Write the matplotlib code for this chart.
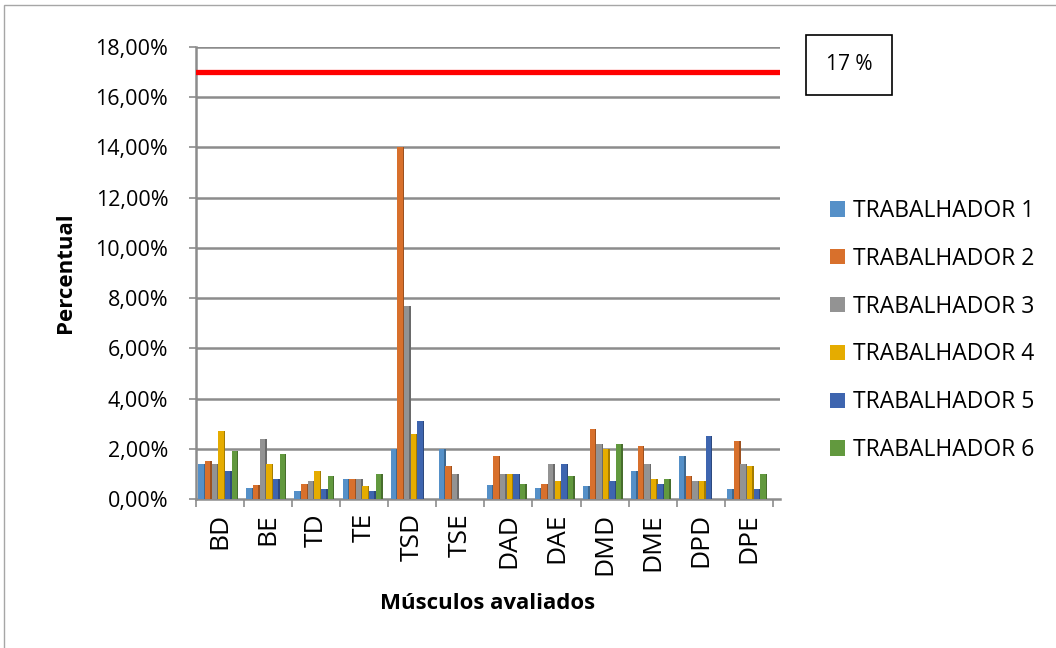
import matplotlib
matplotlib.use("Agg")
import matplotlib.pyplot as plt
from matplotlib.patches import Rectangle
from matplotlib.ticker import FuncFormatter, FixedLocator
from matplotlib.colors import to_rgb
import numpy as np

plt.rcParams['font.family'] = ['Open Sans', 'DejaVu Sans']

# Muscles evaluated
categories = ["BD", "BE", "TD", "TE", "TSD", "TSE", "DAD", "DAE", "DMD", "DME", "DPD", "DPE"]

# Percentual per worker (%)
trabalhador_1 = [1.4, 0.45, 0.3, 0.8, 2.0, 2.0, 0.55, 0.45, 0.5, 1.1, 1.7, 0.4]
trabalhador_2 = [1.5, 0.55, 0.6, 0.8, 14.0, 1.3, 1.7, 0.6, 2.8, 2.1, 0.9, 2.3]
trabalhador_3 = [1.4, 2.4, 0.7, 0.8, 7.7, 1.0, 1.0, 1.4, 2.2, 1.4, 0.7, 1.4]
trabalhador_4 = [2.7, 1.4, 1.1, 0.5, 2.6, 0.0, 1.0, 0.7, 2.0, 0.8, 0.7, 1.3]
trabalhador_5 = [1.1, 0.8, 0.4, 0.3, 3.1, 0.0, 1.0, 1.4, 0.7, 0.6, 2.5, 0.4]
trabalhador_6 = [1.9, 1.8, 0.9, 1.0, 0.0, 0.0, 0.6, 0.9, 2.2, 0.8, 0.0, 1.0]

series_labels = ["TRABALHADOR 1", "TRABALHADOR 2", "TRABALHADOR 3",
                 "TRABALHADOR 4", "TRABALHADOR 5", "TRABALHADOR 6"]
series_values = [trabalhador_1, trabalhador_2, trabalhador_3,
                 trabalhador_4, trabalhador_5, trabalhador_6]
colors = ["#5590C8", "#D8702C", "#939393", "#E5AC00", "#3E65AF", "#62993E"]

limite = 17.0
limite_label = "17 %"

fig = plt.figure(figsize=(10.56, 6.48), dpi=100)
fig.patch.set_facecolor("white")

# outer chart frame
fig.add_artist(Rectangle((4 / 1056, -0.01), 1.02, 1 - 5 / 648 + 0.01,
                         transform=fig.transFigure, fill=False,
                         edgecolor="#A6A6A6", linewidth=1.0))

ax = fig.add_axes([196 / 1056, 1 - 499 / 648, 584 / 1056, 452 / 648])
ax.set_xlim(-0.5, len(categories) - 0.35)
ax.set_ylim(0, 18)

x = np.arange(len(categories))
front_w = 0.112
side_w = 0.03
step = 0.138
offsets = (np.arange(6) - 2.5) * step - 0.05


def shade(c, f):
    r, g, b = to_rgb(c)
    return (r * f, g * f, b * f)


for vals, col, lab, off in zip(series_values, colors, series_labels, offsets):
    v = np.array(vals)
    ax.bar(x + off, v, width=front_w, color=col, label=lab, zorder=3,
           linewidth=0)
    # darker side face for depth
    ax.bar(x + off + front_w / 2 + side_w / 2, v, width=side_w,
           color=shade(col, 0.72), zorder=3, linewidth=0)

# horizontal gridlines
for yv in np.arange(2, 19, 2):
    ax.axhline(yv, color="#8C8C8C", linewidth=1.8, zorder=1)

# reference threshold line
ax.axhline(limite, color="#FF0000", linewidth=3.8, zorder=4)

ax.yaxis.set_major_locator(FixedLocator(np.arange(0, 19, 2)))
ax.yaxis.set_major_formatter(FuncFormatter(lambda v, p: f"{v:.2f}%".replace(".", ",")))
ax.set_xticks(x)
ax.set_xticklabels(categories, rotation=90, fontsize=19)
ax.set_xticks(np.arange(-0.5, len(categories) + 0.5, 1), minor=True)
ax.tick_params(axis="x", which="major", length=0, pad=10)
ax.tick_params(axis="x", which="minor", length=6, color="#8C8C8C", width=1.2)
ax.tick_params(axis="y", length=5, color="#8C8C8C", width=1.2, labelsize=15.5, pad=15)

for s in ["top", "right"]:
    ax.spines[s].set_visible(False)
for s in ["left", "bottom"]:
    ax.spines[s].set_color("#8C8C8C")
    ax.spines[s].set_linewidth(1.8)

ax.set_ylabel("Percentual", fontsize=16, fontweight="bold", labelpad=14)
ax.set_xlabel("Músculos avaliados", fontsize=16, fontweight="bold", labelpad=13)

# threshold label box
fig.text(849 / 1056, 1 - 65 / 648, limite_label, fontsize=15, ha="center", va="center",
         bbox=dict(boxstyle="square,pad=0.95", facecolor="white", edgecolor="black",
                   linewidth=1.2))

handles, labels = ax.get_legend_handles_labels()
fig.legend(handles, labels, loc="upper left", bbox_to_anchor=(830 / 1056, 1 - 199 / 648),
           frameon=False, fontsize=16.5, handlelength=0.65, handleheight=0.65,
           handletextpad=0.35, labelspacing=1.04, borderaxespad=0, borderpad=0)

fig.savefig("out.png", dpi=100, facecolor="white")
